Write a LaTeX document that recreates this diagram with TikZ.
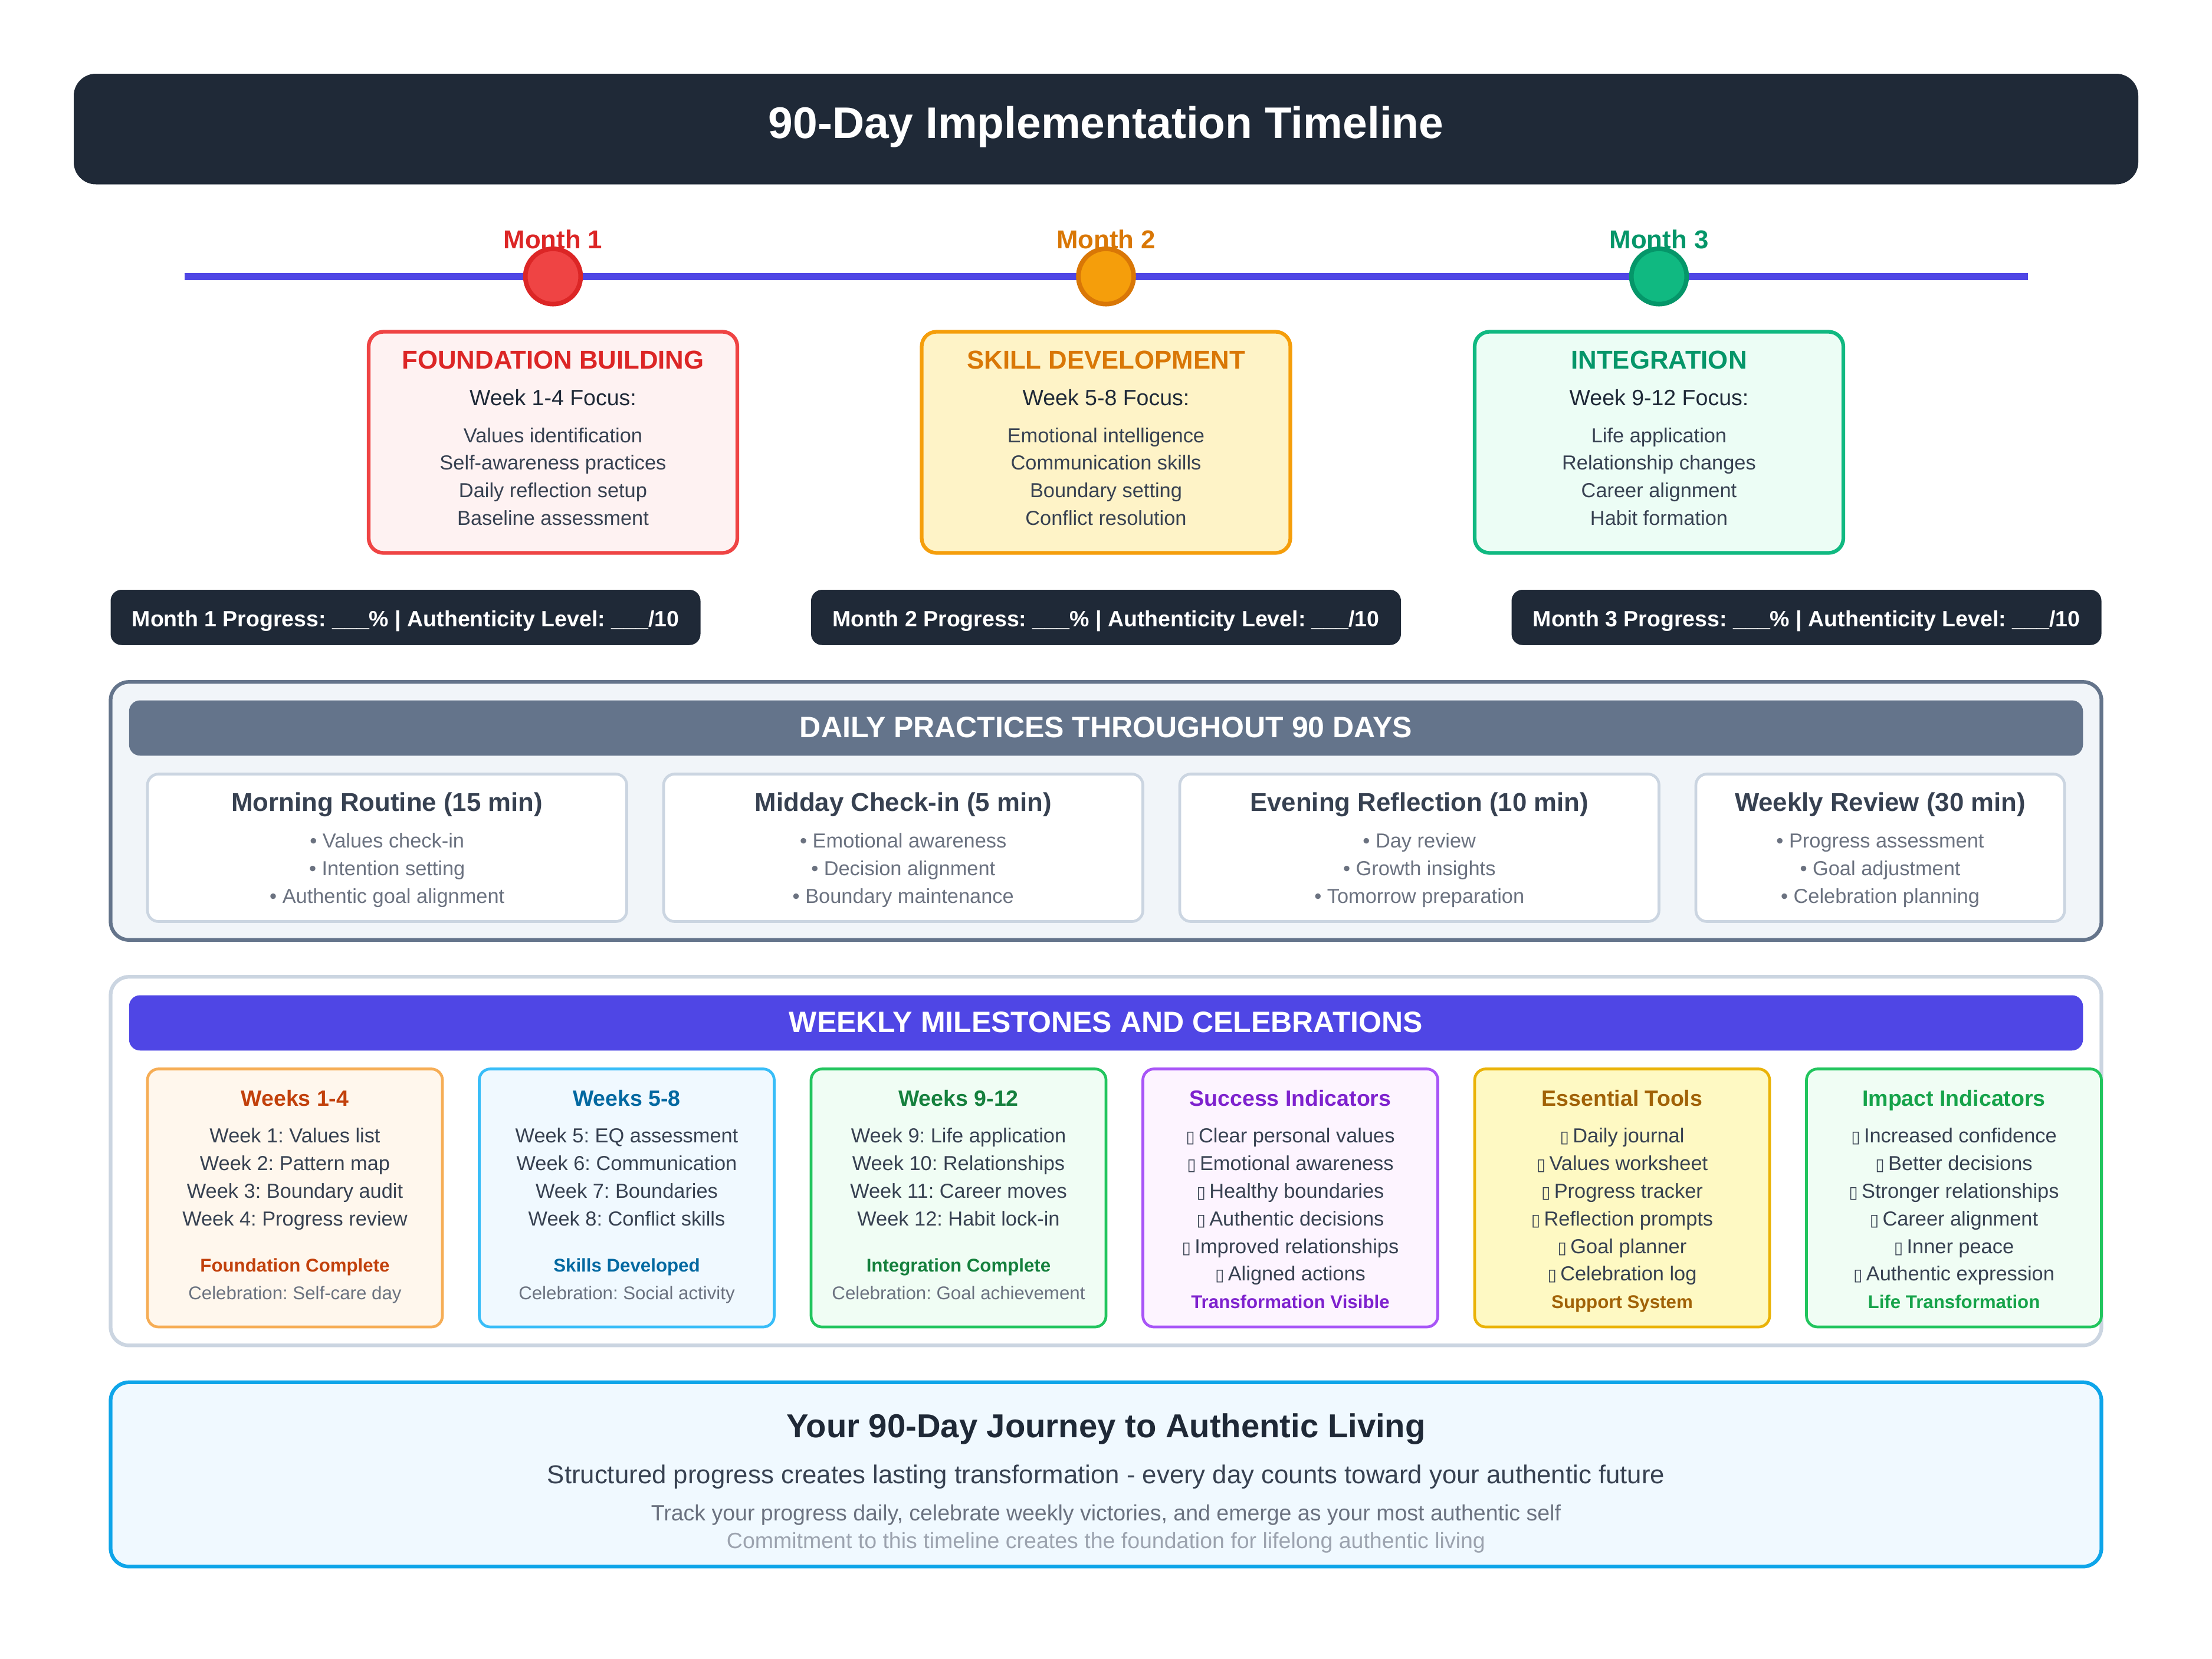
\documentclass[tikz,border=0pt]{standalone}
\usepackage{fontspec}
\setmainfont{Liberation Sans}
\newfontfamily\glyphfont{DejaVu Sans}
\newcommand\fsz[1]{\fontsize{#1}{#1}\selectfont}
\newcommand\chk{{\glyphfont\fsz{9}▯}\hspace{2pt}}

\definecolor{navy}{HTML}{1F2937}
\definecolor{indigo}{HTML}{4F46E5}
\definecolor{txtdark}{HTML}{374151}
\definecolor{txtgray}{HTML}{6B7280}
\definecolor{txtlight}{HTML}{9CA3AF}
\definecolor{slate}{HTML}{64748B}
\definecolor{slatebg}{HTML}{F1F5F9}
\definecolor{cardline}{HTML}{CBD5E1}
% month phases
\definecolor{redfill}{HTML}{EF4444}\definecolor{redline}{HTML}{DC2626}\definecolor{redbg}{HTML}{FEF2F2}
\definecolor{ambfill}{HTML}{F59E0B}\definecolor{ambline}{HTML}{D97706}\definecolor{ambbg}{HTML}{FEF3C7}
\definecolor{grnfill}{HTML}{10B981}\definecolor{grnline}{HTML}{059669}\definecolor{grnbg}{HTML}{ECFDF5}
% milestone cards
\definecolor{orbg}{HTML}{FFF7ED}\definecolor{orline}{HTML}{F6AD55}\definecolor{ortx}{HTML}{C2410C}
\definecolor{skbg}{HTML}{F0F9FF}\definecolor{skline}{HTML}{38BDF8}\definecolor{sktx}{HTML}{0369A1}
\definecolor{gnbg}{HTML}{F0FDF4}\definecolor{gnline}{HTML}{22C55E}\definecolor{gntx}{HTML}{15803D}\definecolor{gntxb}{HTML}{16A34A}
\definecolor{pubg}{HTML}{FDF4FF}\definecolor{puline}{HTML}{A855F7}\definecolor{putx}{HTML}{7E22CE}
\definecolor{yebg}{HTML}{FEF9C3}\definecolor{yeline}{HTML}{EAB308}\definecolor{yetx}{HTML}{A16207}
\definecolor{footbg}{HTML}{F0F9FF}\definecolor{footline}{HTML}{0EA5E9}

\begin{document}
\frenchspacing
\begin{tikzpicture}[x=1pt,y=-1pt,
  txt/.style={anchor=base,inner sep=0pt,outer sep=0pt},
  box/.style={inner sep=0pt,outer sep=0pt},
  phase/.style={box,line width=2pt,rounded corners=8pt,minimum width=200pt,minimum height=120pt},
  dot/.style={circle,inner sep=0pt,minimum size=30pt,line width=2.5pt},
  bar/.style={box,fill=navy,rounded corners=6pt,minimum width=320pt,minimum height=30pt},
  practice/.style={box,fill=white,draw=cardline,line width=1.5pt,rounded corners=6pt,minimum height=80pt},
  mile/.style={box,line width=1.5pt,rounded corners=6pt,minimum width=160pt,minimum height=140pt},
  band/.style={box,rounded corners=6pt,minimum width=1060pt,minimum height=30pt},
]
\path[use as bounding box] (0,0) rectangle (1200,900);
\fill[white] (0,0) rectangle (1200,900);

% ---------- heading ----------
\node[box,fill=navy,rounded corners=12pt,minimum width=1120pt,minimum height=60pt] (head) at (600,70) {};
\node[txt,font=\fsz{24}\bfseries,text=white] (headtxt) at (600,75) {90-Day Implementation Timeline};

% ---------- timeline ----------
\coordinate (tl0) at (100,150);
\coordinate (tl1) at (1100,150);
\draw[indigo,line width=4pt] (tl0) -- (tl1);

\newcommand\monthmark[5]{% id, x, fill, line, label
  \node[txt,font=\fsz{14}\bfseries,text=#4] (#1lab) at (#2,135) {#5};
  \node[dot,fill=#3,draw=#4] (#1dot) at (#2,150) {};
}
\monthmark{m1}{300}{redfill}{redline}{Month 1}
\monthmark{m2}{600}{ambfill}{ambline}{Month 2}
\monthmark{m3}{900}{grnfill}{grnline}{Month 3}

\newcommand\phasecard[8]{% id, x, bg, line, title colour, title, focus, items
  \node[phase,fill=#3,draw=#4] (#1) at (#2,240) {};
  \node[txt,font=\fsz{14}\bfseries,text=#5] (#1t) at (#2,200) {#6};
  \node[txt,font=\fsz{12},text=navy] (#1f) at (#2,220) {#7};
  \foreach \t [count=\k] in {#8} {
    \node[txt,font=\fsz{11},text=txtdark] (#1i\k) at (#2,225+15*\k) {\t};
  }
}
\phasecard{ph1}{300}{redbg}{redfill}{redline}{FOUNDATION BUILDING}{Week 1-4 Focus:}
  {Values identification,Self-awareness practices,Daily reflection setup,Baseline assessment}
\phasecard{ph2}{600}{ambbg}{ambfill}{ambline}{SKILL DEVELOPMENT}{Week 5-8 Focus:}
  {Emotional intelligence,Communication skills,Boundary setting,Conflict resolution}
\phasecard{ph3}{900}{grnbg}{grnfill}{grnline}{INTEGRATION}{Week 9-12 Focus:}
  {Life application,Relationship changes,Career alignment,Habit formation}

% ---------- monthly progress bars ----------
\foreach \n/\x in {1/220,2/600,3/980} {
  \node[bar] (pg\n) at (\x,335) {};
  \node[txt,font=\fsz{12}\bfseries,text=white] (pg\n t) at (\x,340)
    {Month \n\ Progress: \_\_\_\% | Authenticity Level: \_\_\_/10};
}

% ---------- daily practices ----------
\node[box,fill=slatebg,draw=slate,line width=2pt,rounded corners=10pt,minimum width=1080pt,minimum height=140pt] (daily) at (600,440) {};
\node[band,fill=slate] (dailyband) at (600,395) {};
\node[txt,font=\fsz{16}\bfseries,text=white] (dailyt) at (600,400) {DAILY PRACTICES THROUGHOUT 90 DAYS};

\newcommand\practice[5]{% id, x, width, title, bullets
  \node[practice,minimum width=#3] (#1) at (#2,460) {};
  \node[txt,font=\fsz{14}\bfseries,text=txtdark] (#1t) at (#2,440) {#4};
  \foreach \t [count=\k] in {#5} {
    \node[txt,font=\fsz{11},text=txtgray] (#1i\k) at (#2,445+15*\k) {•\ \t};
  }
}
\practice{pr1}{210}{260pt}{Morning Routine (15 min)}{Values check-in,Intention setting,Authentic goal alignment}
\practice{pr2}{490}{260pt}{Midday Check-in (5 min)}{Emotional awareness,Decision alignment,Boundary maintenance}
\practice{pr3}{770}{260pt}{Evening Reflection (10 min)}{Day review,Growth insights,Tomorrow preparation}
\practice{pr4}{1020}{200pt}{Weekly Review (30 min)}{Progress assessment,Goal adjustment,Celebration planning}

% ---------- weekly milestones ----------
\node[box,fill=white,draw=cardline,line width=2pt,rounded corners=10pt,minimum width=1080pt,minimum height=200pt] (weekly) at (600,630) {};
\node[band,fill=indigo] (weeklyband) at (600,555) {};
\node[txt,font=\fsz{16}\bfseries,text=white] (weeklyt) at (600,560) {WEEKLY MILESTONES AND CELEBRATIONS};

\newcommand\weekcard[8]{% id, x, bg, line, title colour, title, items, label
  \node[mile,fill=#3,draw=#4] (#1) at (#2,650) {};
  \node[txt,font=\fsz{12}\bfseries,text=#5] (#1t) at (#2,600) {#6};
  \foreach \t [count=\k] in {#7} {
    \node[txt,font=\fsz{11},text=txtdark] (#1i\k) at (#2,605+15*\k) {\t};
  }
  \node[txt,font=\fsz{10}\bfseries,text=#5] (#1b) at (#2,690) {#8};
}
\weekcard{wk1}{160}{orbg}{orline}{ortx}{Weeks 1-4}
  {Week 1: Values list,Week 2: Pattern map,Week 3: Boundary audit,Week 4: Progress review}{Foundation Complete}
\node[txt,font=\fsz{10},text=txtgray] (wk1c) at (160,705) {Celebration: Self-care day};
\weekcard{wk2}{340}{skbg}{skline}{sktx}{Weeks 5-8}
  {Week 5: EQ assessment,Week 6: Communication,Week 7: Boundaries,Week 8: Conflict skills}{Skills Developed}
\node[txt,font=\fsz{10},text=txtgray] (wk2c) at (340,705) {Celebration: Social activity};
\weekcard{wk3}{520}{gnbg}{gnline}{gntx}{Weeks 9-12}
  {Week 9: Life application,Week 10: Relationships,Week 11: Career moves,Week 12: Habit lock-in}{Integration Complete}
\node[txt,font=\fsz{10},text=txtgray] (wk3c) at (520,705) {Celebration: Goal achievement};

\newcommand\checkcard[8]{% id, x, bg, line, title colour, title, items, label
  \node[mile,fill=#3,draw=#4] (#1) at (#2,650) {};
  \node[txt,font=\fsz{12}\bfseries,text=#5] (#1t) at (#2,600) {#6};
  \foreach \t [count=\k] in {#7} {
    \node[txt,font=\fsz{11},text=txtdark] (#1i\k) at (#2,605+15*\k) {\chk\t};
  }
  \node[txt,font=\fsz{10}\bfseries,text=#5] (#1b) at (#2,710) {#8};
}
\checkcard{wk4}{700}{pubg}{puline}{putx}{Success Indicators}
  {Clear personal values,Emotional awareness,Healthy boundaries,Authentic decisions,Improved relationships,Aligned actions}{Transformation Visible}
\checkcard{wk5}{880}{yebg}{yeline}{yetx}{Essential Tools}
  {Daily journal,Values worksheet,Progress tracker,Reflection prompts,Goal planner,Celebration log}{Support System}
\checkcard{wk6}{1060}{gnbg}{gnline}{gntxb}{Impact Indicators}
  {Increased confidence,Better decisions,Stronger relationships,Career alignment,Inner peace,Authentic expression}{Life Transformation}

% ---------- closing panel ----------
\node[box,fill=footbg,draw=footline,line width=2pt,rounded corners=10pt,minimum width=1080pt,minimum height=100pt] (foot) at (600,800) {};
\node[txt,font=\fsz{18}\bfseries,text=navy] (foot1) at (600,780) {Your 90-Day Journey to Authentic Living};
\node[txt,font=\fsz{14},text=txtdark] (foot2) at (600,805) {Structured progress creates lasting transformation - every day counts toward your authentic future};
\node[txt,font=\fsz{12},text=txtgray] (foot3) at (600,825) {Track your progress daily, celebrate weekly victories, and emerge as your most authentic self};
\node[txt,font=\fsz{12},text=txtlight] (foot4) at (600,840) {Commitment to this timeline creates the foundation for lifelong authentic living};
\end{tikzpicture}
\end{document}
